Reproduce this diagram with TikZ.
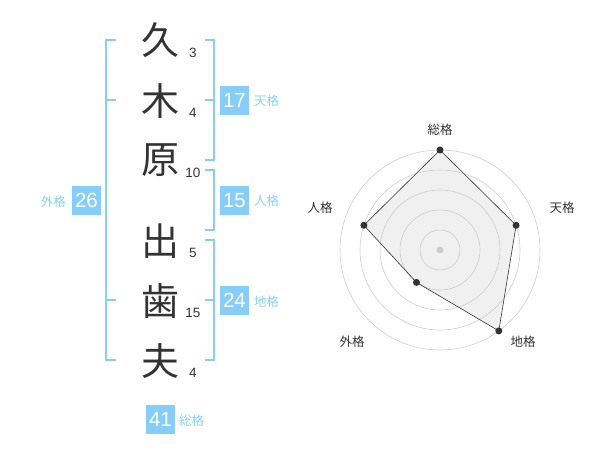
\documentclass[tikz,border=0pt]{standalone}
\usepackage{fontspec}
\setmainfont{Liberation Sans}
\newfontfamily\cjk{Noto Sans CJK JP}
\definecolor{skyb}{HTML}{85CEF9}
\definecolor{skyt}{HTML}{8ACFF5}
\definecolor{ink}{HTML}{333333}
\definecolor{ring}{HTML}{CCCCCC}
\tikzset{
  brk/.style={draw=skyb, line width=1.8pt},
  kanji/.style={font=\cjk\fontsize{38}{38}\selectfont, text=ink, inner sep=0pt},
  strokes/.style={font=\fontsize{13.5}{13.5}\selectfont, text=ink, inner sep=0pt},
  numbox/.style={fill=skyb, text=white, minimum width=29pt, minimum height=29pt, inner sep=0pt, font=\fontsize{20.5}{20.5}\selectfont},
  kaku/.style={font=\cjk\fontsize{12.5}{12.5}\selectfont, text=skyt, inner sep=0pt},
  axlab/.style={font=\cjk\fontsize{12.5}{12.5}\selectfont, text=ink, inner sep=0pt},
  dot/.style={circle, fill=ink, inner sep=0pt, minimum size=7pt},
}
\begin{document}
\begin{tikzpicture}[x=1pt,y=-1pt]
\useasboundingbox (0,0) rectangle (600,470);
% kanji
\node[kanji] (k1) at (160,40) {久};
\node[kanji] (k2) at (160,101) {木};
\node[kanji] (k3) at (160,160) {原};
\node[kanji] (k4) at (160,241) {出};
\node[kanji] (k5) at (160,301) {歯};
\node[kanji] (k6) at (160,361) {夫};
% strokes
\node[strokes] (s1) at (193,53) {3};
\node[strokes] (s2) at (193,113) {4};
\node[strokes] (s3) at (193,173) {10};
\node[strokes] (s4) at (193,253) {5};
\node[strokes] (s5) at (193,313) {15};
\node[strokes] (s6) at (193,373) {4};
% left bracket (gaikaku)
\draw[brk] (116,40) -- (106,40) -- (106,360) -- (116,360);
\draw[brk] (106,100) -- (116,100);
\draw[brk] (106,300) -- (116,300);
% right brackets
\draw[brk] (205,40) -- (214,40) -- (214,160) -- (205,160);
\draw[brk] (205,100) -- (214,100);
\draw[brk] (205,170) -- (214,170) -- (214,230) -- (205,230);
\draw[brk] (205,240) -- (214,240) -- (214,360) -- (205,360);
\draw[brk] (205,300) -- (214,300);
% boxes
\node[numbox] (b26) at (86.5,200.5) {26};
\node[kaku, anchor=east] (l26) at (66,202) {外格};
\node[numbox] (b17) at (234.5,100.5) {17};
\node[kaku, anchor=west] (l17) at (254,101) {天格};
\node[numbox] (b15) at (234.5,200.5) {15};
\node[kaku, anchor=west] (l15) at (254,201) {人格};
\node[numbox] (b24) at (234.5,300.5) {24};
\node[kaku, anchor=west] (l24) at (254,302) {地格};
\node[numbox] (b41) at (160.5,419) {41};
\node[kaku, anchor=west] (l41) at (179,421) {総格};
% radar
\coordinate (c) at (440,250);
\coordinate (pT) at (516.1,225.3);
\coordinate (pC) at (498.8,330.9);
\coordinate (pG) at (416.5,282.4);
\coordinate (pJ) at (363.9,225.3);
\coordinate (pS) at (440,150);
\fill[black!6] (pS) -- (pT) -- (pC) -- (pG) -- (pJ) -- cycle;
\foreach \r in {20,40,60,80,100} \draw[ring, line width=0.6pt] (c) circle (\r);
\fill[ring] (c) circle (3.5);
\draw[draw=ink, line width=0.6pt] (pS) -- (pT) -- (pC) -- (pG) -- (pJ) -- cycle;
\foreach \p in {pS,pT,pC,pG,pJ} \node[dot] at (\p) {};
\node[axlab] (aS) at (440,130) {総格};
\node[axlab] (aT) at (562,208) {天格};
\node[axlab] (aJ) at (320,208) {人格};
\node[axlab] (aG) at (352,342) {外格};
\node[axlab] (aC) at (523,342) {地格};
\end{tikzpicture}
\end{document}
